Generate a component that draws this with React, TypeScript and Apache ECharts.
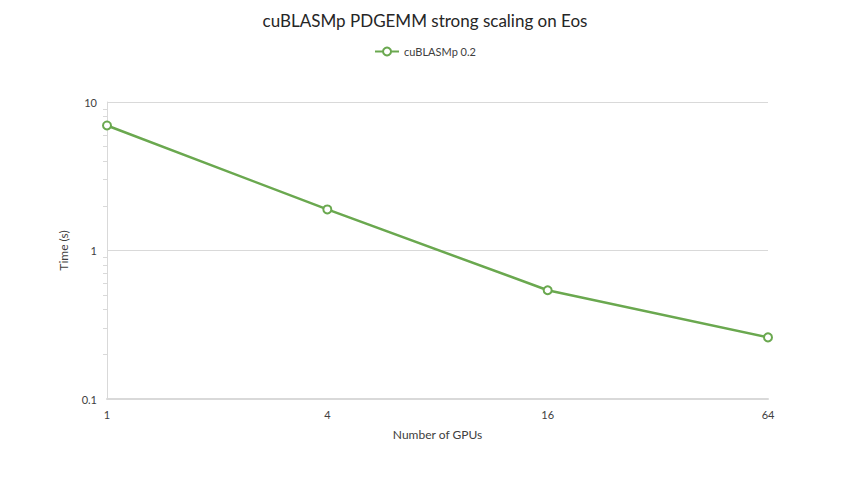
import React, { useEffect, useRef } from "react";
import * as echarts from "echarts";

const gpuCounts = ["1", "4", "16", "64"];
const timeSeconds = [6.95, 1.89, 0.54, 0.26];
const seriesName = "cuBLASMp 0.2";
const minorTickValues = [
  0.2, 0.3, 0.4, 0.5, 0.6, 0.7, 0.8, 0.9,
  2, 3, 4, 5, 6, 7, 8, 9,
];

export default function App() {
  const ref = useRef<HTMLDivElement>(null);
  useEffect(() => {
    if (!ref.current) return;
    const chart = echarts.init(ref.current, undefined, { renderer: "svg" });
    const font = "Lato, 'Open Sans', sans-serif";
    chart.setOption({
      animation: false,
      backgroundColor: "#ffffff",
      textStyle: { fontFamily: font },
      title: {
        text: "cuBLASMp PDGEMM strong scaling on Eos",
        left: "center",
        top: 7,
        textStyle: { fontFamily: font, fontSize: 17, fontWeight: "normal", color: "#262626" },
      },
      legend: {
        top: 41,
        left: "center",
        itemWidth: 24,
        itemHeight: 10,
        itemGap: 10,
        textStyle: { fontFamily: font, fontSize: 11, color: "#404040" },
        data: [seriesName],
      },
      grid: { left: 107, right: 82, top: 102, bottom: 79, containLabel: false },
      xAxis: {
        type: "category",
        data: gpuCounts,
        boundaryGap: false,
        name: "Number of GPUs",
        nameLocation: "middle",
        nameGap: 29,
        nameTextStyle: { fontFamily: font, fontSize: 12, color: "#404040" },
        axisLine: { lineStyle: { color: "#d9d9d9", width: 2 } },
        axisTick: { show: false },
        axisLabel: { fontFamily: font, fontSize: 11, color: "#404040", margin: 10 },
        splitLine: { show: false },
      },
      yAxis: [
        {
          type: "log",
          logBase: 10,
          min: 0.1,
          max: 10,
          name: "Time (s)",
          nameLocation: "middle",
          nameGap: 38,
          nameTextStyle: { fontFamily: font, fontSize: 12, color: "#404040" },
          axisLine: { show: true, lineStyle: { color: "#d9d9d9", width: 1 } },
          axisTick: {
            show: true,
            length: 4,
            lineStyle: { color: "#d9d9d9" },
            customValues: minorTickValues,
          },
          axisLabel: { fontFamily: font, fontSize: 11, color: "#404040", margin: 10 },
          splitLine: { show: false },
        },
        {
          type: "log",
          logBase: 10,
          min: 0.1,
          max: 10,
          position: "left",
          axisLine: { show: false },
          axisTick: { show: false },
          axisLabel: { show: false },
          splitLine: { show: true, lineStyle: { color: "#d9d9d9", width: 1 } },
        },
      ],
      series: [
        {
          name: seriesName,
          type: "line",
          yAxisIndex: 0,
          data: timeSeconds,
          symbol: "emptyCircle",
          symbolSize: 8,
          lineStyle: { color: "#6aa84f", width: 2.5 },
          itemStyle: { color: "#6aa84f", borderColor: "#6aa84f", borderWidth: 2 },
        },
      ],
    });
    return () => chart.dispose();
  }, []);
  return (
    <div
      ref={ref}
      style={{ position: "absolute", left: 0, top: 0, width: 850, height: 478 }}
    />
  );
}
